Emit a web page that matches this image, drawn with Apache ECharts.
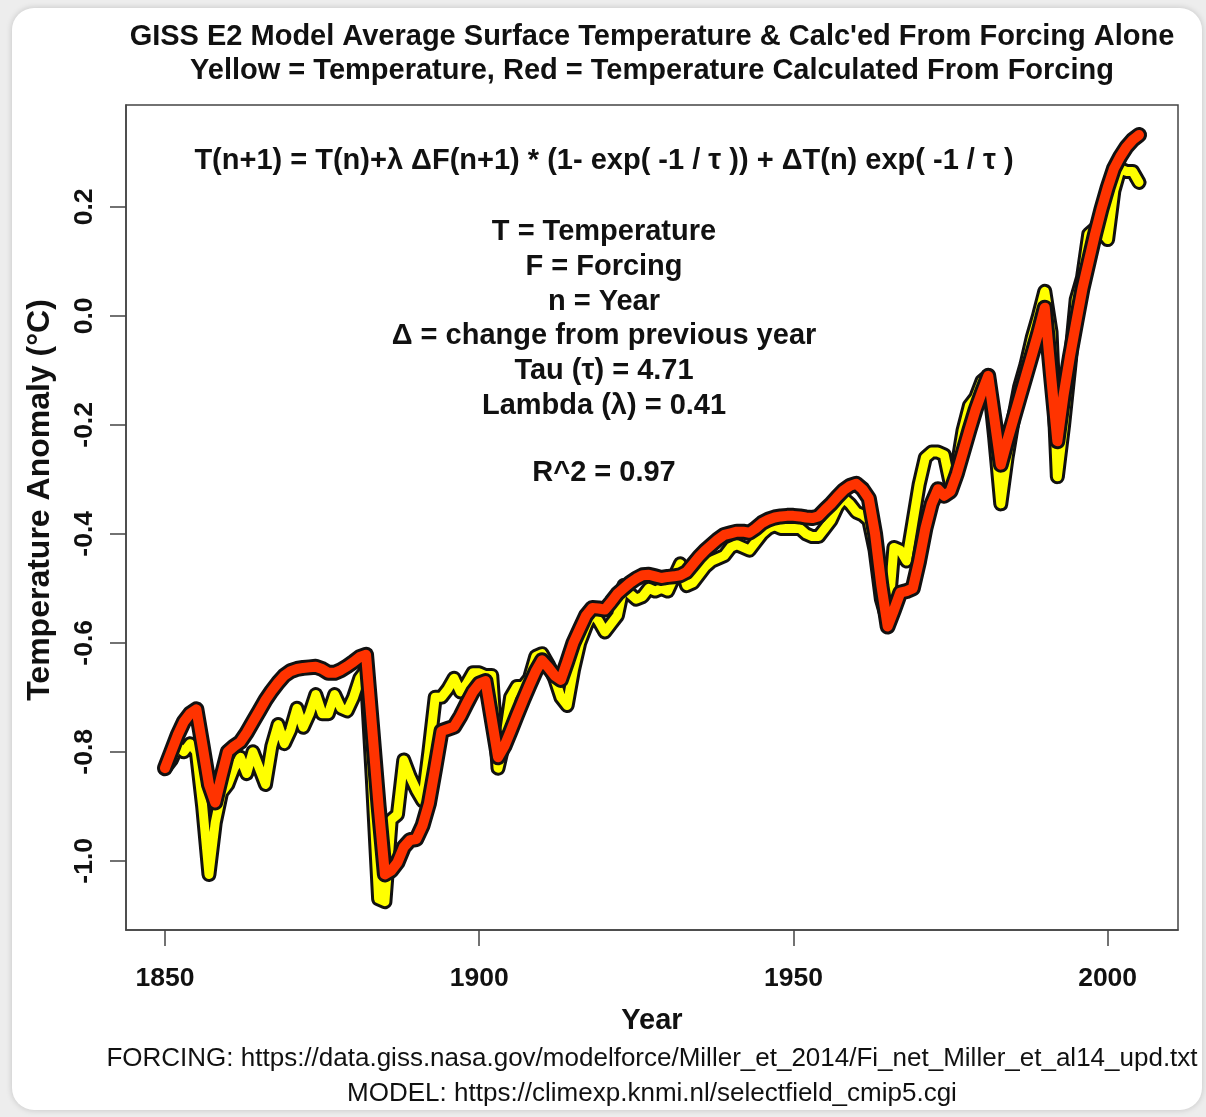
<!DOCTYPE html>
<html>
<head>
<meta charset="utf-8">
<script src="https://cdn.jsdelivr.net/npm/echarts@6/dist/echarts.min.js"></script>
<style>
  html, body { margin:0; padding:0; width:1206px; height:1117px; background:#ededed; overflow:hidden; }
  #card { position:absolute; left:12px; top:8px; width:1190px; height:1102px; background:#fff; border-radius:22px; box-shadow:0 0 6px rgba(0,0,0,0.18); }
  #chart { position:absolute; left:0; top:0; width:1206px; height:1117px; }
</style>
</head>
<body>
<div id="card"></div>
<div id="chart"></div>
<script>
// ---- data ----
const startYear = 1850;
const modelTemp = [
  -0.83, -0.815, -0.79, -0.80, -0.785, -0.80, -0.90, -1.025, -0.93, -0.875,
  -0.86, -0.83, -0.81, -0.84, -0.80, -0.83, -0.86, -0.79, -0.75, -0.785,
  -0.76, -0.72, -0.755, -0.73, -0.695, -0.73, -0.73, -0.695, -0.72, -0.725,
  -0.70, -0.665, -0.65, -0.85, -1.07, -1.075, -0.925, -0.915, -0.815, -0.845,
  -0.87, -0.89, -0.80, -0.70, -0.70, -0.685, -0.665, -0.69, -0.675, -0.655,
  -0.655, -0.66, -0.66, -0.83, -0.78, -0.70, -0.68, -0.68, -0.665, -0.625,
  -0.62, -0.64, -0.665, -0.70, -0.715, -0.65, -0.60, -0.57, -0.545, -0.56,
  -0.58, -0.565, -0.55, -0.495, -0.51, -0.52, -0.515, -0.50, -0.505, -0.50,
  -0.505, -0.48, -0.455, -0.495, -0.49, -0.475, -0.46, -0.45, -0.445, -0.44,
  -0.425, -0.42, -0.425, -0.43, -0.415, -0.40, -0.39, -0.385, -0.39, -0.39,
  -0.39, -0.39, -0.40, -0.405, -0.405, -0.39, -0.375, -0.35, -0.335, -0.345,
  -0.36, -0.365, -0.375, -0.43, -0.52, -0.56, -0.425, -0.43, -0.45, -0.38,
  -0.31, -0.26, -0.25, -0.25, -0.255, -0.31, -0.28, -0.21, -0.165, -0.15,
  -0.12, -0.11, -0.22, -0.345, -0.26, -0.19, -0.13, -0.09, -0.04, 0.0,
  0.045, -0.03, -0.295, -0.20, -0.09, 0.03, 0.07, 0.15, 0.16, 0.155,
  0.14, 0.23, 0.27, 0.265, 0.265, 0.245
];
const calcTemp = [
  -0.83, -0.80, -0.77, -0.745, -0.73, -0.722, -0.79, -0.86, -0.893, -0.845,
  -0.80, -0.79, -0.782, -0.765, -0.745, -0.725, -0.705, -0.688, -0.673, -0.66,
  -0.652, -0.648, -0.646, -0.645, -0.644, -0.648, -0.655, -0.655, -0.65, -0.643,
  -0.635, -0.626, -0.622, -0.76, -0.90, -1.025, -1.018, -1.003, -0.975, -0.962,
  -0.96, -0.935, -0.895, -0.83, -0.762, -0.758, -0.754, -0.735, -0.712, -0.69,
  -0.675, -0.67, -0.74, -0.81, -0.79, -0.762, -0.733, -0.705, -0.678, -0.652,
  -0.632, -0.645, -0.66, -0.668, -0.635, -0.60, -0.575, -0.55, -0.536, -0.537,
  -0.539, -0.525, -0.51, -0.50, -0.49, -0.482, -0.476, -0.475, -0.478, -0.481,
  -0.479, -0.478, -0.476, -0.47, -0.456, -0.442, -0.43, -0.42, -0.41, -0.402,
  -0.399, -0.396, -0.396, -0.398, -0.39, -0.38, -0.374, -0.37, -0.368, -0.367,
  -0.367, -0.368, -0.37, -0.371, -0.368, -0.356, -0.345, -0.332, -0.32, -0.312,
  -0.308, -0.318, -0.335, -0.40, -0.495, -0.57, -0.54, -0.508, -0.505, -0.50,
  -0.45, -0.39, -0.345, -0.318, -0.33, -0.322, -0.29, -0.25, -0.21, -0.172,
  -0.14, -0.11, -0.19, -0.273, -0.23, -0.19, -0.15, -0.11, -0.07, -0.03,
  0.015, -0.11, -0.23, -0.145, -0.075, -0.012, 0.05, 0.10, 0.15, 0.195,
  0.235, 0.27, 0.292, 0.31, 0.323, 0.332
];
const years = modelTemp.map((_, i) => startYear + i);
const xTicks = [1850, 1900, 1950, 2000];
const yTicks = [-1.0, -0.8, -0.6, -0.4, -0.2, 0.0, 0.2];

const titleLines = [
  "GISS E2 Model Average Surface Temperature & Calc'ed From Forcing Alone",
  "Yellow = Temperature, Red = Temperature Calculated From Forcing"
];
const formulaText = "T(n+1) = T(n)+λ ΔF(n+1) * (1- exp( -1 / τ )) + ΔT(n) exp( -1 / τ )";
const legendLines = ["T = Temperature", "F = Forcing", "n = Year", "Δ = change from previous year", "Tau (τ) = 4.71", "Lambda (λ) = 0.41"];
const r2Text = "R^2 = 0.97";
const xName = "Year";
const yName = "Temperature Anomaly (°C)";
const footLines = [
  "FORCING: https://data.giss.nasa.gov/modelforce/Miller_et_2014/Fi_net_Miller_et_al14_upd.txt",
  "MODEL: https://climexp.knmi.nl/selectfield_cmip5.cgi"
];

// ---- chart ----
const FONT = '"Liberation Sans", Arial, Helvetica, sans-serif';
const pairs = arr => arr.map((v, i) => [years[i], v]);
function lineSeries(arr, color, width) {
  return {
    type: 'line', data: pairs(arr), showSymbol: false, symbol: 'none', silent: true,
    lineStyle: { color: color, width: width, cap: 'round', join: 'round' },
    animation: false
  };
}

const chart = echarts.init(document.getElementById('chart'), null, { renderer: 'canvas' });
const textEl = (x, y, text, size, weight, extra) => Object.assign({
  type: 'text', x: x, y: y, silent: true,
  style: { text: text, fontSize: size, fontWeight: weight, fontFamily: FONT, fill: '#111', align: 'center', verticalAlign: 'middle' }
}, extra || {});

const graphics = [
  textEl(652, 37, titleLines[0], 29, 'bold'),
  textEl(652, 71, titleLines[1], 29, 'bold'),
  textEl(604, 161, formulaText, 29, 'bold'),
  textEl(652, 1021, xName, 29, 'bold'),
  textEl(652, 1059, footLines[0], 26, 'normal'),
  textEl(652, 1094, footLines[1], 26, 'normal'),
  textEl(604, 473, r2Text, 29, 'bold'),
  { type: 'text', x: 40, y: 500, rotation: Math.PI / 2, silent: true,
    style: { text: yName, fontSize: 32, fontWeight: 'bold', fontFamily: FONT, fill: '#111', align: 'center', verticalAlign: 'middle' } }
];
legendLines.forEach((t, i) => graphics.push(textEl(604, 232 + i * 34.8, t, 29, 'bold')));

chart.setOption({
  animation: false,
  backgroundColor: 'transparent',
  grid: { left: 126, top: 105, width: 1052, height: 825, show: true, borderColor: '#444', borderWidth: 1.5, backgroundColor: 'transparent' },
  xAxis: {
    type: 'value', min: 1843.8, max: 2011.2,
    splitLine: { show: false },
    axisLine: { show: true, onZero: false, lineStyle: { color: '#444', width: 1.5 } },
    axisTick: { show: true, length: 16, customValues: xTicks, lineStyle: { color: '#444', width: 1.5 } },
    axisLabel: { customValues: xTicks, margin: 35, fontSize: 26.5, fontWeight: 'bold', fontFamily: FONT, color: '#111', formatter: v => String(Math.round(v)) }
  },
  yAxis: {
    type: 'value', min: -1.127, max: 0.387,
    splitLine: { show: false },
    axisLine: { show: true, onZero: false, lineStyle: { color: '#444', width: 1.5 } },
    axisTick: { show: true, length: 16, customValues: yTicks, lineStyle: { color: '#444', width: 1.5 } },
    axisLabel: { customValues: yTicks, rotate: 90, margin: 28, fontSize: 26.5, fontWeight: 'bold', fontFamily: FONT, color: '#111', formatter: v => v.toFixed(1) }
  },
  series: [
    lineSeries(modelTemp, '#111', 15),
    lineSeries(modelTemp, '#ffff00', 9),
    lineSeries(calcTemp, '#111', 16),
    lineSeries(calcTemp, '#ff3300', 10)
  ],
  graphic: graphics
});
</script>
</body>
</html>
